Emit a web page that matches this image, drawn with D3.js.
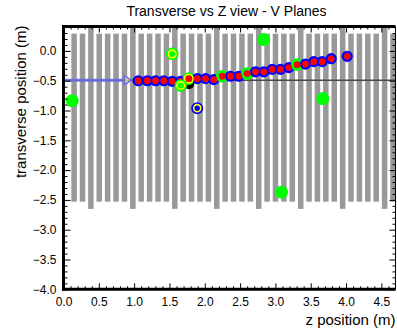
<!DOCTYPE html>
<html>
<head>
<meta charset="utf-8">
<script src="https://cdn.jsdelivr.net/npm/d3@7"></script>
<style>
  html, body { margin: 0; padding: 0; background: #fff; }
  svg { display: block; font-family: "Liberation Sans", Arial, Helvetica, sans-serif; }
</style>
</head>
<body>
<svg id="chart" width="397" height="331"></svg>
<script>
// V-plane positions along z (m) and their transverse extents (m)
const planeZ = [0.150, 0.269, 0.388, 0.506, 0.625, 0.744, 0.863, 0.982, 1.100, 1.219,
                1.338, 1.457, 1.576, 1.694, 1.813, 1.932, 2.051, 2.170, 2.288, 2.407,
                2.526, 2.645, 2.764, 2.882, 3.001, 3.120, 3.239, 3.358, 3.476, 3.595,
                3.714, 3.833, 3.952, 4.070, 4.189, 4.308, 4.427, 4.546, 4.664];
const fullPlane = [0, 0, 1, 0, 0, 0, 0, 1, 0, 0,
                   0, 0, 1, 0, 0, 0, 0, 1, 0, 0,
                   0, 0, 1, 0, 0, 0, 0, 1, 0, 0,
                   0, 0, 1, 0, 0, 0, 0, 1, 0];
const partialTop = 0.29, partialBottom = -2.53;
const fullTop = 0.45, fullBottom = -2.65;

// Reconstructed track hits: z (m), transverse (m)
const hitZ = [1.057, 1.185, 1.302, 1.420, 1.539, 1.656, 1.774, 1.893, 2.010, 2.128,
              2.247, 2.364, 2.482, 2.600, 2.718, 2.835, 2.954, 3.072, 3.189, 3.308,
              3.426, 3.543, 3.662, 3.790, 4.016];
const hitT = [-0.50, -0.50, -0.50, -0.50, -0.51, -0.51, -0.465, -0.465, -0.465, -0.48,
              -0.425, -0.425, -0.425, -0.38, -0.35, -0.35, -0.31, -0.31, -0.28, -0.23,
              -0.22, -0.18, -0.18, -0.13, -0.09];
// hits flagged as shower/strip matches (lime ring)
const hitFlag = [0, 0, 0, 0, 0, 0, 2, 0, 0, 0,
                 1, 0, 0, 1, 0, 0, 0, 0, 0, 1,
                 0, 0, 0, 0, 0];

// Unassociated strips
const isoZ = [0.123, 2.835, 3.671, 3.086];
const isoT = [-0.835, 0.19, -0.80, -2.37];

// Ringed candidates
const ringZ = [1.539, 1.660];
const ringT = [-0.05, -0.58];
const blueRingZ = [1.893], blueRingT = [-0.96];
const vtxZ = [1.774], vtxT = [-0.55];

// Fitted track direction and incoming arrow
const trackLineT = -0.49;
const arrowEndZ = 0.96;

const xTicks = [0.0, 0.5, 1.0, 1.5, 2.0, 2.5, 3.0, 3.5, 4.0, 4.5];
const yTicks = [0.0, -0.5, -1.0, -1.5, -2.0, -2.5, -3.0, -3.5, -4.0];
const xDomain = [0, 4.7];
const yDomain = [-4.0, 0.41];

const svg = d3.select("#chart");
const L = 63.5, R = 395.5, T = 26.5, B = 289.3;
const x = d3.scaleLinear().domain(xDomain).range([L, R]);
const y = d3.scaleLinear().domain(yDomain).range([B, T]);

svg.append("defs").append("clipPath").attr("id", "plot")
  .append("rect").attr("x", L).attr("y", T).attr("width", R - L).attr("height", B - T);

const plot = svg.append("g").attr("clip-path", "url(#plot)");

// planes
const barW = 0.078;
plot.selectAll("rect.plane").data(planeZ).join("rect")
  .attr("class", "plane")
  .attr("x", d => x(d - barW / 2))
  .attr("width", d => x(d + barW / 2) - x(d - barW / 2))
  .attr("y", (d, i) => y(fullPlane[i] ? fullTop : partialTop))
  .attr("height", (d, i) => fullPlane[i] ? y(fullBottom) - y(fullTop) : y(partialBottom) - y(partialTop))
  .attr("fill", "#999999");

// track direction line
plot.append("line")
  .attr("x1", x(xDomain[0])).attr("x2", x(xDomain[1]))
  .attr("y1", y(trackLineT)).attr("y2", y(trackLineT))
  .attr("stroke", "#4a4a4a").attr("stroke-width", 1.5);

// incoming arrow
plot.append("line")
  .attr("x1", x(0)).attr("x2", x(arrowEndZ) - 5)
  .attr("y1", y(trackLineT)).attr("y2", y(trackLineT))
  .attr("stroke", "#6a6aee").attr("stroke-opacity", 0.85).attr("stroke-width", 3);
const ax = x(arrowEndZ), ay = y(trackLineT);
plot.append("path")
  .attr("d", `M${ax - 7},${ay - 4.5}L${ax},${ay}L${ax - 7},${ay + 4.5}Z`)
  .attr("fill", "#ffff66").attr("fill-opacity", 0.6)
  .attr("stroke", "#6a6aee").attr("stroke-width", 1.5);

// vertex candidate
plot.selectAll("circle.vtx").data(vtxZ).join("circle")
  .attr("cx", d => x(d)).attr("cy", (d, i) => y(vtxT[i])).attr("r", 5.5).attr("fill", "#000");

// track hits
const hits = hitZ.map((z, i) => ({ z, t: hitT[i], f: hitFlag[i] }));
plot.selectAll("circle.hitOuter").data(hits).join("circle")
  .attr("cx", d => x(d.z)).attr("cy", d => y(d.t))
  .attr("r", d => d.f ? 6.3 : 5.6)
  .attr("fill", d => d.f ? "#00ff00" : "#0000ff");
plot.selectAll("circle.hitRing").data(hits.filter(d => d.f === 2)).join("circle")
  .attr("cx", d => x(d.z)).attr("cy", d => y(d.t)).attr("r", 4.2)
  .attr("fill", "none").attr("stroke", "#ffff00").attr("stroke-width", 1.6);
plot.selectAll("circle.hitInner").data(hits).join("circle")
  .attr("cx", d => x(d.z)).attr("cy", d => y(d.t)).attr("r", 3.4)
  .attr("fill", "#ff0000");

// ringed candidates
ringZ.forEach((z, i) => {
  plot.append("circle").attr("cx", x(z)).attr("cy", y(ringT[i])).attr("r", 6.3).attr("fill", "#00ff00");
  plot.append("circle").attr("cx", x(z)).attr("cy", y(ringT[i])).attr("r", 3.8)
    .attr("fill", "none").attr("stroke", "#ffff00").attr("stroke-width", 1.6);
});
blueRingZ.forEach((z, i) => {
  plot.append("circle").attr("cx", x(z)).attr("cy", y(blueRingT[i])).attr("r", 6).attr("fill", "#0000ff");
  plot.append("circle").attr("cx", x(z)).attr("cy", y(blueRingT[i])).attr("r", 3.5)
    .attr("fill", "none").attr("stroke", "#ffff00").attr("stroke-width", 1.6);
});

// isolated strips
plot.selectAll("circle.iso").data(isoZ).join("circle")
  .attr("cx", d => x(d)).attr("cy", (d, i) => y(isoT[i])).attr("r", 6.5)
  .attr("fill", "#00ff00");

// axes: ticks point inwards
const minorX = d3.range(0, 47).map(i => i / 10).filter(v => Math.abs(v * 2 - Math.round(v * 2)) > 1e-6);
const minorY = d3.range(-40, 5).map(i => i / 10).filter(v => Math.abs(v * 2 - Math.round(v * 2)) > 1e-6);
const fmt = d3.format(".1f");

function styleAxis(g) {
  g.select(".domain").remove();
  g.selectAll("line").attr("stroke", "#000").attr("stroke-width", 1);
  g.selectAll("text").attr("font-size", 12).attr("fill", "#000")
    .attr("font-family", "'Liberation Sans', Arial, sans-serif");
}

svg.append("g").attr("transform", `translate(0,${B})`)
  .call(d3.axisBottom(x).tickValues(xTicks).tickFormat(fmt).tickSizeInner(-6).tickSizeOuter(0).tickPadding(8))
  .call(styleAxis);
svg.append("g").attr("transform", `translate(0,${B})`)
  .call(d3.axisBottom(x).tickValues(minorX).tickFormat("").tickSizeInner(-3).tickSizeOuter(0))
  .call(styleAxis);
svg.append("g").attr("transform", `translate(${L},0)`)
  .call(d3.axisLeft(y).tickValues(yTicks).tickFormat(fmt).tickSizeInner(-7).tickSizeOuter(0).tickPadding(7))
  .call(styleAxis);
svg.append("g").attr("transform", `translate(${L},0)`)
  .call(d3.axisLeft(y).tickValues(minorY).tickFormat("").tickSizeInner(-4).tickSizeOuter(0))
  .call(styleAxis);
// opposite sides
svg.append("g").attr("transform", `translate(${R},0)`)
  .call(d3.axisRight(y).tickValues(yTicks).tickFormat("").tickSizeInner(-6).tickSizeOuter(0))
  .call(styleAxis);
svg.append("g").attr("transform", `translate(${R},0)`)
  .call(d3.axisRight(y).tickValues(minorY).tickFormat("").tickSizeInner(-3).tickSizeOuter(0))
  .call(styleAxis);
svg.append("g").attr("transform", `translate(0,${T})`)
  .call(d3.axisTop(x).tickValues(xTicks).tickFormat("").tickSizeInner(-6).tickSizeOuter(0))
  .call(styleAxis);
svg.append("g").attr("transform", `translate(0,${T})`)
  .call(d3.axisTop(x).tickValues(minorX).tickFormat("").tickSizeInner(-3).tickSizeOuter(0))
  .call(styleAxis);

// frame
svg.append("line").attr("x1", L).attr("x2", L).attr("y1", T - 1.5).attr("y2", B + 1.5)
  .attr("stroke", "#000").attr("stroke-width", 3);
svg.append("line").attr("x1", L - 1.5).attr("x2", R).attr("y1", B).attr("y2", B)
  .attr("stroke", "#000").attr("stroke-width", 3);
svg.append("line").attr("x1", L - 1.5).attr("x2", R).attr("y1", T).attr("y2", T)
  .attr("stroke", "#000").attr("stroke-width", 3);
svg.append("line").attr("x1", R).attr("x2", R).attr("y1", T).attr("y2", B)
  .attr("stroke", "#000").attr("stroke-width", 1);

// titles
svg.append("text").attr("x", 226.5).attr("y", 16).attr("text-anchor", "middle")
  .attr("font-size", 14).text("Transverse vs Z view - V Planes");
svg.append("text").attr("x", R).attr("y", 325).attr("text-anchor", "end")
  .attr("font-size", 15).text("z position (m)");
svg.append("text").attr("transform", `translate(26,${T - 1}) rotate(-90)`)
  .attr("text-anchor", "end").attr("font-size", 15).text("transverse position (m)");
</script>
</body>
</html>
